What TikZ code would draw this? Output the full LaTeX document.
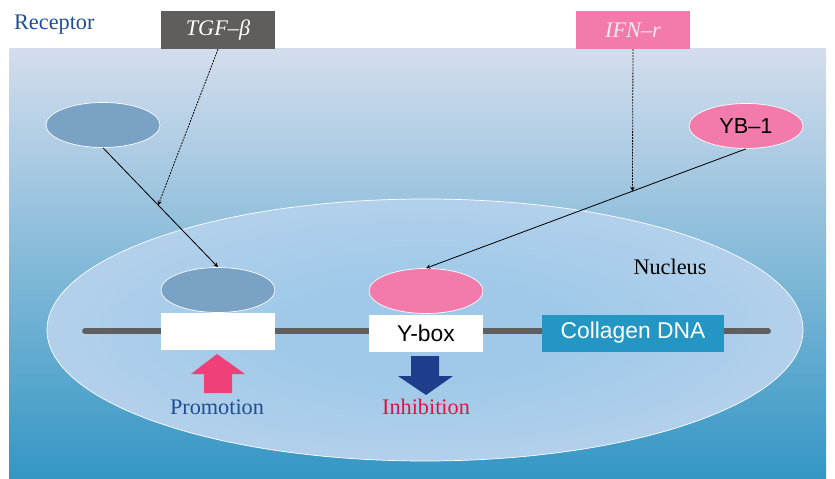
\documentclass[tikz,border=0pt]{standalone}
\usepackage{fontspec}
\setmainfont{Liberation Serif}
\setsansfont{Liberation Sans}
\usetikzlibrary{shapes.geometric}
\definecolor{cellTop}{RGB}{211,221,237}
\definecolor{cellMid}{RGB}{152,184,213}
\definecolor{cellBot}{RGB}{52,150,196}
\definecolor{nucIn}{RGB}{160,201,233}
\definecolor{nucOut}{RGB}{210,221,238}
\definecolor{steel}{RGB}{122,162,196}
\definecolor{rose}{RGB}{243,123,172}
\definecolor{slate}{RGB}{96,94,92}
\definecolor{teal}{RGB}{35,150,196}
\definecolor{dnagray}{RGB}{95,95,95}
\definecolor{navy}{RGB}{31,78,150}
\definecolor{crimson}{RGB}{225,20,65}
\definecolor{upred}{RGB}{240,64,122}
\definecolor{downblue}{RGB}{30,61,140}
\pgfdeclareradialshading{nucglow}{\pgfpointorigin}{color(0bp)=(nucIn); color(10bp)=(nucIn); color(50bp)=(nucOut); color(75bp)=(nucOut)}

\begin{document}
\begin{tikzpicture}[x=0.03cm, y=-0.03cm, >=stealth,
  protein/.style={ellipse, draw=white, line width=0.6pt, minimum width=3.42cm, minimum height=1.35cm, inner sep=0pt, font=\sffamily\fontsize{18.5}{22}\selectfont},
  gene/.style={minimum width=3.42cm, minimum height=1.11cm, inner sep=0pt, font=\sffamily\fontsize{19.5}{23}\selectfont},
  ligand/.style={minimum width=3.42cm, minimum height=1.14cm, inner sep=0pt, font=\itshape\fontsize{19}{23}\selectfont},
  caption/.style={font=\fontsize{19}{23}\selectfont}]
\useasboundingbox (0,0) rectangle (835,479);
% cell
\shade [top color=cellTop, middle color=cellMid, bottom color=cellBot] (9,49) rectangle (826,479);
\node [ellipse, draw=white, line width=0.6pt, shading=nucglow, minimum width=22.68cm, minimum height=7.86cm] (nucleus) at (425,330) {};
\node [caption, anchor=west] (receptor) at (10,25) {\textcolor{navy}{Receptor}};
\node [caption] (nuctext) at (670,267) {Nucleus};
% ligands
\node [ligand, fill=slate, text=white] (tgf) at (218,30) {TGF–β};
\node [ligand, fill=rose, text={rgb,255:red,252;green,232;blue,242}] (ifn) at (633,30) {IFN–r};
% proteins
\node [protein, fill=steel] (recL) at (103,125) {};
\node [protein, fill=rose] (yb) at (746,126) {YB–1};
\node [protein, fill=steel] (bindL) at (218,290) {};
\node [protein, fill=rose] (bindR) at (426,291) {};
% DNA
\draw [dnagray, line width=5pt, line cap=round] (85,331) -- (768,331);
\node [gene, fill=white] (promoter) at (218,331) {};
\node [gene, fill=white] (ybox) at (426,333) {Y-box};
\node [gene, fill=teal, text=white, minimum width=5.46cm] (collagen) at (633,333) {Collagen DNA};
% signals
\draw [->, line width=0.7pt] (recL.south) -- coordinate[pos=0.48] (tgfhit) (bindL.north);
\draw [->, line width=0.7pt] (yb.south) -- coordinate[pos=0.355] (ifnhit) (bindR.north);
\draw [->, line width=0.7pt, dash pattern=on 1.5pt off 1pt] (tgf.south) -- (tgfhit);
\draw [->, line width=0.7pt, dash pattern=on 1.5pt off 1pt] (ifn.south) -- (ifnhit);
% effects
\fill [upred] (217,354) -- (245,374) -- (232,374) -- (232,393) -- (204,393) -- (204,374) -- (191,374) -- cycle;
\fill [downblue] (411,356) -- (439,356) -- (439,376) -- (453,376) -- (426,395) -- (398,376) -- (411,376) -- cycle;
\node [caption, text=navy] (promotion) at (217,407) {Promotion};
\node [caption, text=crimson] (inhibition) at (426,407) {Inhibition};
\end{tikzpicture}
\end{document}
